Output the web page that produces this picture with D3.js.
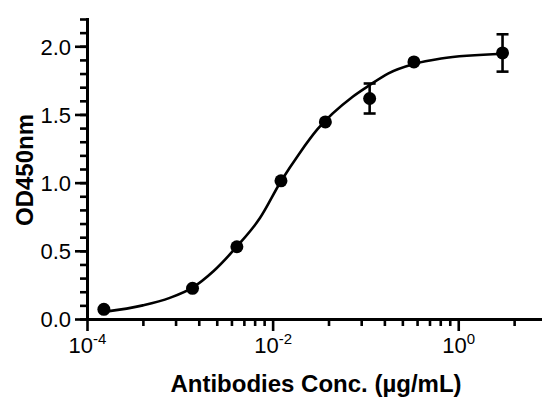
<!DOCTYPE html>
<html>
<head>
<meta charset="utf-8">
<script src="https://cdn.jsdelivr.net/npm/d3@7"></script>
<style>
  body { margin: 0; background: #fff; }
  text { font-family: "Liberation Sans", Arial, sans-serif; fill: #000; }
</style>
</head>
<body>
<div id="chart"></div>
<script>
var svgWidth = 552;
var svgHeight = 411;

var margin = {
  top: 19,
  right: 12,
  bottom: 92,
  left: 87
};

var chartWidth = svgWidth - margin.left - margin.right;
var chartHeight = svgHeight - margin.top - margin.bottom;

// measured points (3-fold dilutions, ug/mL)
var concentrations = [0.000152, 0.00137, 0.00412, 0.0123, 0.037, 0.111, 0.333, 3];
var od450 = [0.071, 0.225, 0.53, 1.013, 1.445, 1.617, 1.885, 1.951];
var od450Sd = [0, 0, 0, 0, 0, 0.11, 0, 0.137];

// fitted curve
var curveConc = [0.000152, 0.0004, 0.00078, 0.00137, 0.0023, 0.0041, 0.0073, 0.0123,
  0.0197, 0.0303, 0.0729, 0.111, 0.175, 0.333, 0.655, 3];
var curveOd = [0.052, 0.10, 0.155, 0.23, 0.35, 0.53, 0.74, 1.01,
  1.22, 1.39, 1.63, 1.715, 1.80, 1.87, 1.91, 1.945];

// tick labels
var xTickValues = [1e-4, 1e-2, 1];
var xTickExponents = ["-4", "-2", "0"];
var yTickValues = [0, 0.5, 1, 1.5, 2];
var yTickLabels = ["0.0", "0.5", "1.0", "1.5", "2.0"];

var svg = d3.select("#chart").append("svg")
  .attr("width", svgWidth)
  .attr("height", svgHeight);

var chartGroup = svg.append("g")
  .attr("transform", `translate(${margin.left}, ${margin.top})`);

// scales
var xLogScale = d3.scaleLog()
  .domain([1e-4, 7.6])
  .range([0, chartWidth]);

var yLinearScale = d3.scaleLinear()
  .domain([0, 2.2])
  .range([chartHeight, 0]);

// minor ticks: x is two decades per major tick, y every 0.1
var xMinor = [];
[1e-4, 1e-2, 1].forEach(function(base) {
  for (var k = 2; k <= 9; k++) {
    var v = base * k * k;
    if (v < 7.6) xMinor.push(v);
  }
});
var yMinor = d3.range(0, 23).map(d => d / 10);

// y axis
chartGroup.append("g")
  .attr("class", "y-minor")
  .call(d3.axisLeft(yLinearScale).tickValues(yMinor).tickSize(7).tickSizeOuter(0).tickFormat(""));

var yAxis = chartGroup.append("g")
  .attr("class", "y-axis")
  .call(d3.axisLeft(yLinearScale)
    .tickValues(yTickValues)
    .tickSize(12)
    .tickSizeOuter(0)
    .tickPadding(4)
    .tickFormat((d, i) => yTickLabels[i]));

yAxis.selectAll("text")
  .attr("font-size", "22px")
  .attr("dy", "0.36em");

// x axis
chartGroup.append("g")
  .attr("class", "x-minor")
  .attr("transform", `translate(0, ${chartHeight})`)
  .call(d3.axisBottom(xLogScale).tickValues(xMinor).tickSize(7).tickSizeOuter(0).tickFormat(""));

var xAxis = chartGroup.append("g")
  .attr("class", "x-axis")
  .attr("transform", `translate(0, ${chartHeight})`)
  .call(d3.axisBottom(xLogScale)
    .tickValues(xTickValues)
    .tickSize(12)
    .tickSizeOuter(0)
    .tickFormat(""));

// powers of ten with superscripts
xAxis.selectAll(".tick").each(function(d, i) {
  var label = d3.select(this).append("text")
    .attr("y", 34)
    .attr("text-anchor", "middle")
    .attr("font-size", "22px");
  label.append("tspan").text("10");
  label.append("tspan")
    .attr("dy", -9)
    .attr("font-size", "15px")
    .text(xTickExponents[i]);
});

svg.selectAll(".domain")
  .attr("stroke", "#000")
  .attr("stroke-width", 3)
  .attr("stroke-linecap", "square");

svg.selectAll(".tick line")
  .attr("stroke", "#000")
  .attr("stroke-width", 2.6);

// fitted curve
var curveLine = d3.line()
  .x((d, i) => xLogScale(curveConc[i]))
  .y(d => yLinearScale(d))
  .curve(d3.curveMonotoneX);

chartGroup.append("path")
  .datum(curveOd)
  .attr("d", curveLine)
  .attr("fill", "none")
  .attr("stroke", "#000")
  .attr("stroke-width", 2.6);

// error bars (only where larger than the symbol)
var errGroup = chartGroup.selectAll(".err")
  .data(od450.map((d, i) => ({ x: concentrations[i], y: d, sd: od450Sd[i] })).filter(d => d.sd > 0))
  .enter()
  .append("g")
  .attr("class", "err")
  .attr("stroke", "#000")
  .attr("stroke-width", 2.6);

errGroup.append("line")
  .attr("x1", d => xLogScale(d.x))
  .attr("x2", d => xLogScale(d.x))
  .attr("y1", d => yLinearScale(d.y - d.sd))
  .attr("y2", d => yLinearScale(d.y + d.sd));

[-1, 1].forEach(function(s) {
  errGroup.append("line")
    .attr("x1", d => xLogScale(d.x) - 6)
    .attr("x2", d => xLogScale(d.x) + 6)
    .attr("y1", d => yLinearScale(d.y + s * d.sd))
    .attr("y2", d => yLinearScale(d.y + s * d.sd));
});

// points
chartGroup.selectAll("circle")
  .data(od450)
  .enter()
  .append("circle")
  .attr("cx", (d, i) => xLogScale(concentrations[i]))
  .attr("cy", d => yLinearScale(d))
  .attr("r", 6.5)
  .attr("fill", "#000");

// axis titles
svg.append("text")
  .attr("transform", "translate(33, 170) rotate(-90)")
  .attr("text-anchor", "middle")
  .attr("font-size", "24px")
  .attr("font-weight", "bold")
  .text("OD450nm");

svg.append("text")
  .attr("x", 316)
  .attr("y", 392)
  .attr("text-anchor", "middle")
  .attr("font-size", "24px")
  .attr("font-weight", "bold")
  .text("Antibodies Conc. (µg/mL)");
</script>
</body>
</html>
